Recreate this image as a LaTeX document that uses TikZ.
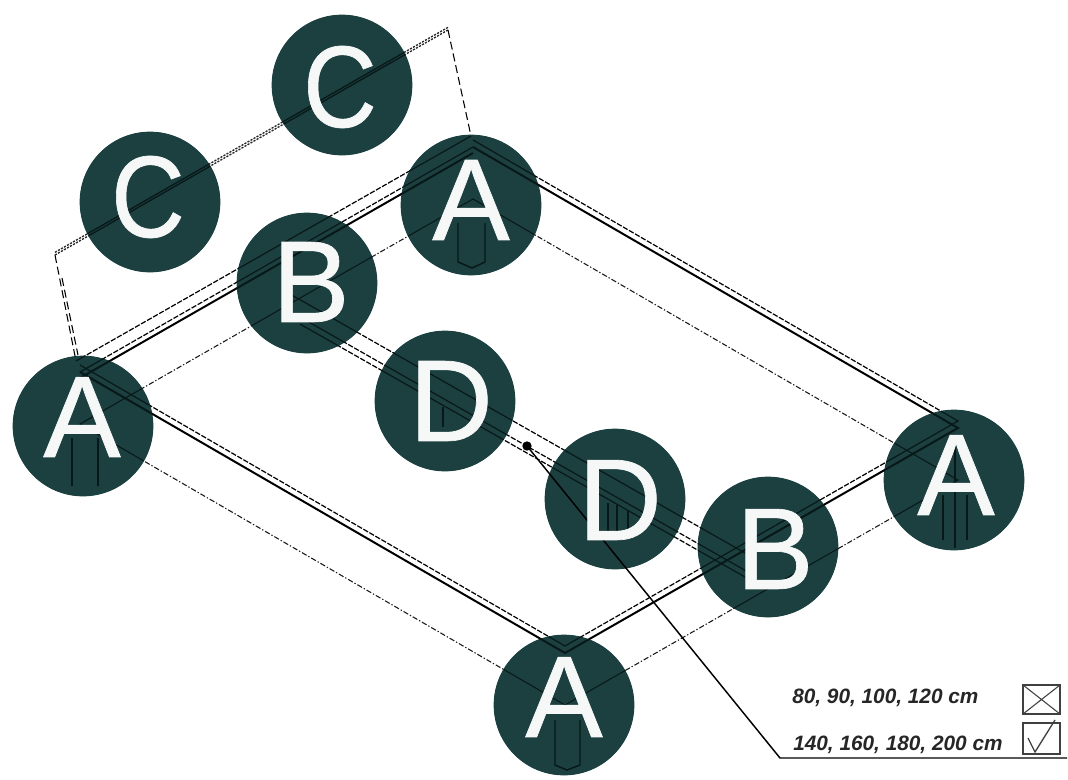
\documentclass[tikz,border=0pt]{standalone}
\usepackage{fontspec}
\setmainfont{Liberation Sans}
\definecolor{disk}{HTML}{1C4040}
\definecolor{ink}{HTML}{081818}
\tikzset{
  diskshape/.style={circle,fill=disk,inner sep=0pt,minimum size=105.5pt},
  letterbig/.style={text=white!96!disk,inner sep=0pt,font=\addfontfeature{FakeBold=0.6}\fontsize{87}{87}\selectfont},
  legendtext/.style={inner sep=0pt,anchor=west,text=black!85,font=\bfseries\itshape\fontsize{15.6}{18}\selectfont},
  tickbox/.style={draw=black!75,line width=.8pt},
  pointer/.style={draw=black,line width=1.1pt},
  heavyline/.style={draw=black,line width=1.5pt},
  dashline/.style={draw=black,line width=.9pt,dash pattern=on 4pt off 1.2pt},
  lowerline/.style={draw=black!90,line width=.8pt,dash pattern=on 4pt off 1.5pt on 1pt off 1.5pt},
  hatchline/.style={draw=black!85,line width=1pt,dash pattern=on 1.6pt off 1pt},
  backline/.style={draw=black,line width=.8pt,dash pattern=on 6pt off 3pt},
  legline/.style={draw=ink,line width=1.1pt},
}
\newcommand{\bedlines}{%
  % upper frame
  \draw[heavyline] (T) -- (R) -- (B) -- (L);
  \draw[heavyline] (T4) -- (L4);
  \draw[dashline] ([yshift=5.25pt]T) -- ([yshift=5.25pt]R) -- ([yshift=5.25pt]B) -- ([yshift=5.25pt]L);
  \draw[dashline] (T) -- (L);
  \draw[dashline] (T3) -- (L3);
  % lower frame
  \draw[lowerline] (T2) -- (R2) -- (B2) -- (L2) -- cycle;
  % rails
  \draw[dashline] (ra) -- (rb);
  \draw[dashline] (rc) -- (rd);
  \draw[dashline] (re) -- (rf);
  % back rest
  \draw[hatchline] (bl) -- (bt);
  \draw[hatchline] ([yshift=2pt]bl) -- ([yshift=2pt]bt);
}
\begin{document}
\begin{tikzpicture}[x=0.75pt,y=-0.75pt]
\useasboundingbox (0,0) rectangle (1068,779);
\fill[white] (0,0) rectangle (1068,779);
% geometry
\coordinate (T) at (473,147); \coordinate (L) at (80,372);
\coordinate (R) at (958,428); \coordinate (B) at (565,653);
\coordinate (T3) at (471,136); \coordinate (L3) at (76,361);
\coordinate (T4) at (473,153); \coordinate (L4) at (80,378);
\coordinate (T2) at (473,199); \coordinate (L2) at (80,424);
\coordinate (R2) at (958,480); \coordinate (B2) at (565,705);
\coordinate (ra) at (290,294); \coordinate (rb) at (745,553);
\coordinate (rc) at (300,317); \coordinate (rd) at (755,576);
\coordinate (re) at (300,324); \coordinate (rf) at (745,577);
\coordinate (bl) at (55,255); \coordinate (bt) at (448,30);
\coordinate (bm) at (62,278); \coordinate (bn) at (78,355);
% disks
\node[diskshape] (c1) at (150,202) {};
\node[diskshape] (c2) at (342,85) {};
\node[diskshape] (a1) at (471,205) {};
\node[diskshape] (b1) at (307,283) {};
\node[diskshape] (d1) at (445,401) {};
\node[diskshape] (d2) at (615,499) {};
\node[diskshape] (b2) at (768,547) {};
\node[diskshape] (a2) at (954,480) {};
\node[diskshape] (a3) at (83,426) {};
\node[diskshape] (a4) at (564,705) {};
% lines outside disks
\bedlines
\draw[backline] (bt) -- (T3);
\draw[backline] (bl) -- (L3);
\draw[backline] (bm) -- (bn);
% same lines, solid on the disks
\begin{scope}
  \clip (c1.center) circle[radius=70] (c2.center) circle[radius=70]
        (a1.center) circle[radius=70] (b1.center) circle[radius=70]
        (d1.center) circle[radius=70] (d2.center) circle[radius=70]
        (b2.center) circle[radius=70] (a2.center) circle[radius=70]
        (a3.center) circle[radius=70] (a4.center) circle[radius=70];
  \fill[disk] (0,0) rectangle (1068,779);
  \tikzset{
    heavyline/.style={draw=ink,line width=1.5pt},
    dashline/.style={draw=ink,line width=.9pt},
    lowerline/.style={draw=ink,line width=.8pt},
    hatchline/.style={draw=ink,line width=1pt},
  }
  \bedlines
\end{scope}
% legs
\draw[legline] (72,438) -- (72,486);
\draw[legline] (98,438) -- (98,486);
\draw[legline] (458,223) -- (458,262) -- (472,268) -- (485,262) -- (485,223);
\draw[legline] (555,720) -- (555,765) -- (567,770) -- (580,765) -- (580,720);
\draw[legline] (943,495) -- (943,540);
\draw[legline] (955,445) -- (955,548);
\draw[legline] (967,495) -- (967,540);
\draw[legline] (443,407) -- (443,427);
\draw[legline] (608,503) -- (608,532);
\draw[legline] (617,505) -- (617,532);
\draw[legline] (628,510) -- (628,530);
% pointer
\coordinate (pe) at (780,758);
\coordinate (pr) at (1067,758);
\node[circle,fill=black,inner sep=0pt,minimum size=7pt] (dot) at (527,446) {};
\draw[pointer] (dot.center) -- (pe) -- (pr);
% letters
\node[letterbig] (lc1) at (148,197) {\scalebox{.88}[1]{C}};
\node[letterbig] (lc2) at (340,87) {\scalebox{.88}[1]{C}};
\node[letterbig] (la1) at (471,200) {A};
\node[letterbig] (lb1) at (311,282) {B};
\node[letterbig] (ld1) at (451,401) {D};
\node[letterbig] (ld2) at (620,500) {D};
\node[letterbig] (lb2) at (775,549) {B};
\node[letterbig] (la2) at (956,475) {A};
\node[letterbig] (la3) at (82,417) {A};
\node[letterbig] (la4) at (564,697) {A};
% legend
\node[legendtext] (t1) at (792,698) {80, 90, 100, 120 cm};
\node[legendtext] (t2) at (793,745) {140, 160, 180, 200 cm};
\draw[tickbox] (1023,685) rectangle (1060,714);
\draw[tickbox] (1023,685) -- (1060,714) (1023,714) -- (1060,685);
\draw[tickbox] (1023,723) rectangle (1060,754);
\draw[tickbox,line width=1pt] (1028,738) -- (1035,752) -- (1055,720);
\end{tikzpicture}
\end{document}
